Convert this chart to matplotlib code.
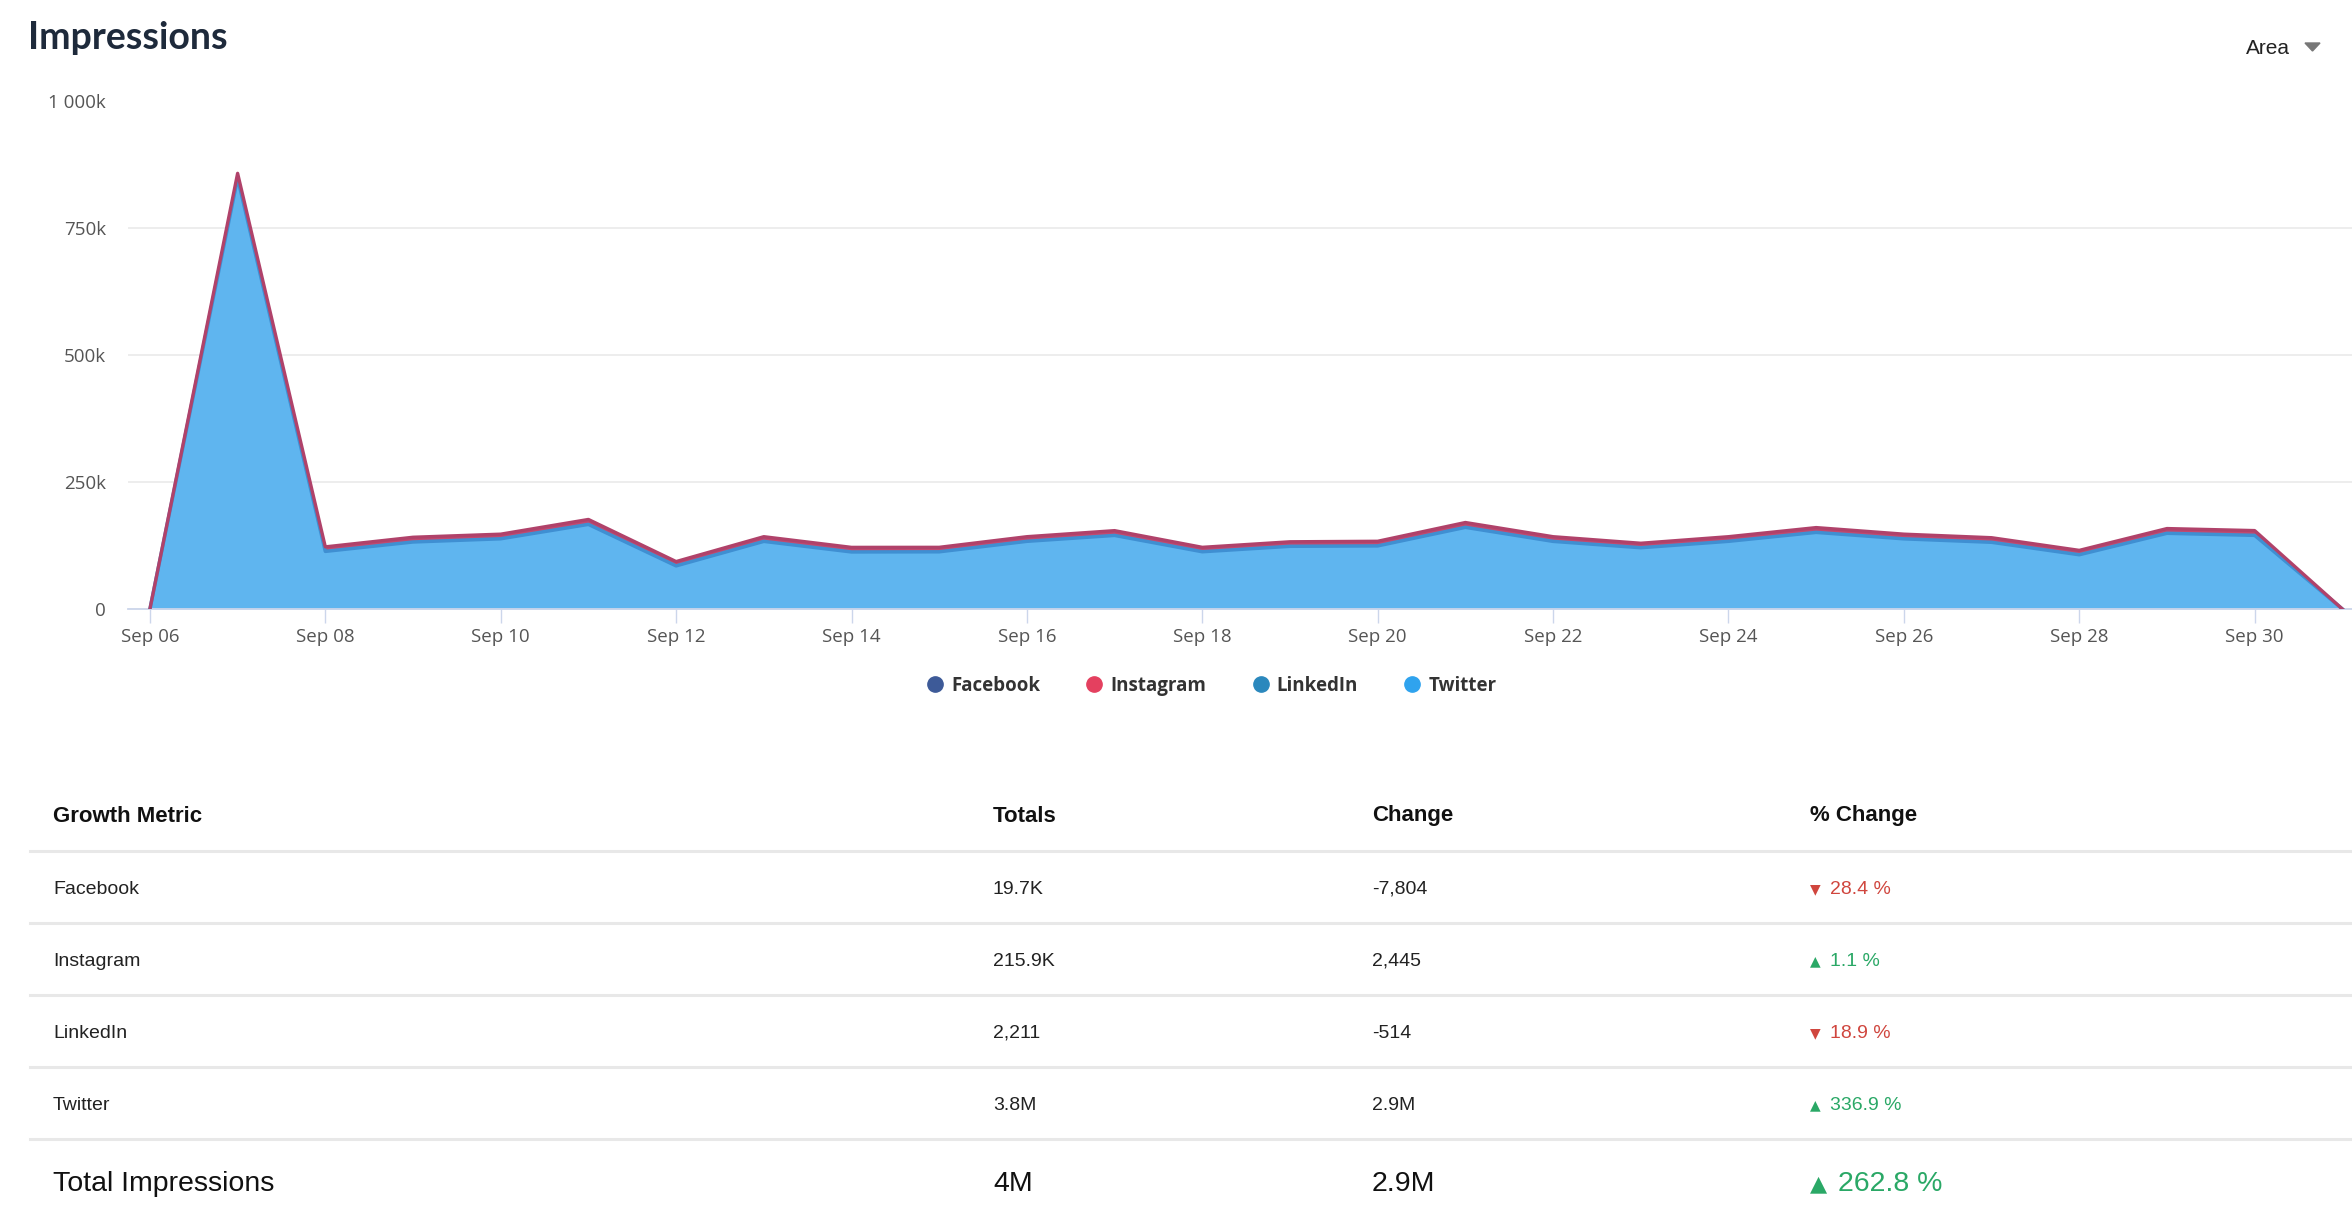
import matplotlib
matplotlib.use("Agg")
import matplotlib.pyplot as plt
from matplotlib.lines import Line2D
from matplotlib.patches import Polygon
import numpy as np

# ---------------- data ----------------
dates = ["Sep 06", "Sep 07", "Sep 08", "Sep 09", "Sep 10", "Sep 11", "Sep 12", "Sep 13",
         "Sep 14", "Sep 15", "Sep 16", "Sep 17", "Sep 18", "Sep 19", "Sep 20", "Sep 21",
         "Sep 22", "Sep 23", "Sep 24", "Sep 25", "Sep 26", "Sep 27", "Sep 28", "Sep 29",
         "Sep 30", "Oct 01"]
# daily impressions, thousands
twitter = [0, 847.2, 113.3, 131.8, 138.1, 166.4, 84.8, 133.0, 112.2, 112.5, 133.1, 144.7,
           112.6, 123.3, 124.1, 160.6, 133.0, 120.5, 133.1, 150.7, 138.0, 131.2, 106.7,
           148.9, 144.8, 0]
linkedin = [0, 0.1, 0.1, 0.1, 0.1, 0.1, 0.1, 0.1, 0.1, 0.1, 0.1, 0.1, 0.1, 0.1, 0.1, 0.1,
            0.1, 0.1, 0.1, 0.1, 0.1, 0.1, 0.1, 0.1, 0.1, 0]
instagram = [0, 9.5, 8.8, 9.2, 9.0, 9.6, 8.4, 9.1, 8.9, 8.7, 9.0, 9.3, 8.6, 8.8, 9.0, 9.4,
             9.1, 8.7, 9.0, 9.3, 9.1, 8.9, 8.5, 9.2, 9.3, 0]
facebook = [0, 1.2, 0.8, 0.9, 0.8, 0.9, 0.7, 0.8, 0.8, 0.7, 0.8, 0.9, 0.7, 0.8, 0.8, 0.9,
            0.8, 0.7, 0.8, 0.9, 0.8, 0.8, 0.7, 0.8, 0.8, 0]

y_ticks = [0, 250, 500, 750, 1000]
y_tick_labels = ["0", "250k", "500k", "750k", "1 000k"]

legend_names = ["Facebook", "Instagram", "LinkedIn", "Twitter"]
legend_colors = ["#3d5a98", "#e4405f", "#2b88bd", "#2fa3ee"]

table_header = ["Growth Metric", "Totals", "Change", "% Change"]
metrics = ["Facebook", "Instagram", "LinkedIn", "Twitter"]
totals = ["19.7K", "215.9K", "2,211", "3.8M"]
changes = ["-7,804", "2,445", "-514", "2.9M"]
pct_changes = ["28.4 %", "1.1 %", "18.9 %", "336.9 %"]
pct_up = [False, True, False, True]
total_row = ["Total Impressions", "4M", "2.9M", "262.8 %"]
total_up = True

# ---------------- figure ----------------
W, H = 2352, 1220
fig = plt.figure(figsize=(W / 100, H / 100), dpi=100)
fig.patch.set_facecolor("white")

def fx(px):
    return px / W

def fy(py):
    return 1 - py / H

ax = fig.add_axes([fx(128), fy(609), fx(2352) - fx(128), fy(100.5) - fy(609)])
x = np.arange(len(dates))

tw = np.array(twitter)
li = np.array(linkedin)
ig = np.array(instagram)
fb = np.array(facebook)
s1 = tw
s2 = s1 + li
s3 = s2 + ig
s4 = s3 + fb

ax.fill_between(x, 0, s1, color="#5fb5ef", lw=0, zorder=2)
ax.fill_between(x, s1, s2, color="#2b88bd", lw=0, zorder=2)
ax.fill_between(x, s2, s3, color="#c2496f", lw=0, zorder=2)
ax.fill_between(x, s3, s4, color="#5a4a8a", lw=0, zorder=2)
ax.plot(x, s1, color="#3f8fd2", lw=2.5, zorder=3, solid_joinstyle="round")
ax.plot(x, s3, color="#b0426a", lw=2.4, zorder=4, solid_joinstyle="round")

ax.set_xlim(-0.25, 25.11)
ax.set_ylim(0, 1000)
ax.set_yticks(y_ticks)
ax.set_yticklabels(y_tick_labels)
ax.set_xticks(x[::2][:13])
ax.set_xticklabels(dates[::2][:13])
ax.grid(axis="y", color="#ececec", lw=1.3, zorder=0)
for s in ["top", "right", "left"]:
    ax.spines[s].set_visible(False)
ax.spines["bottom"].set_color("#ccd6eb")
ax.spines["bottom"].set_linewidth(1.3)
ax.tick_params(axis="y", length=0, pad=16, labelsize=13.5, labelcolor="#555555")
ax.tick_params(axis="x", length=10, width=1, color="#ccd6eb", pad=4, labelsize=13.5,
               labelcolor="#555555")
for lab in ax.get_xticklabels() + ax.get_yticklabels():
    lab.set_family("Open Sans")

# legend
handles = [Line2D([0], [0], marker="o", lw=0, markersize=11, markerfacecolor=c,
                  markeredgecolor=c) for c in legend_colors]
leg = fig.legend(handles, legend_names, loc="center", ncol=4,
                 bbox_to_anchor=(fx(1211), fy(686)), frameon=False,
                 prop={"family": "Open Sans", "weight": "bold", "size": 13.5},
                 handletextpad=0.35, columnspacing=2.4, handlelength=1.0)
for t in leg.get_texts():
    t.set_color("#333333")

# title and dropdown
fig.text(fx(28), fy(38), "Impressions", fontsize=27, fontweight="bold", family="Lato",
         color="#1e2a3b", va="center", ha="left")
fig.text(fx(2246), fy(48), "Area", fontsize=15, family="Liberation Sans", color="#222222",
         va="center", ha="left")
fig.patches.append(Polygon([[fx(2305), fy(43)], [fx(2320), fy(43)], [fx(2312.5), fy(51)]],
                           closed=True, transform=fig.transFigure, color="#777777"))

# table
col_x = [53, 993, 1372, 1810]
row_lines = [850.5, 922.5, 994.5, 1066.5, 1138.5]
row_y = [889.5, 961.5, 1033.5, 1105.5]
red = "#d0463e"
green = "#2aa866"
tfont = ["Liberation Sans", "DejaVu Sans"]

for cx, name in zip(col_x, table_header):
    fig.text(fx(cx), fy(816), name, fontsize=16, fontweight="bold", family=tfont,
             color="#111111", va="center", ha="left")
for ly in row_lines:
    fig.add_artist(Line2D([fx(30), 1.0], [fy(ly), fy(ly)], transform=fig.transFigure,
                          color="#e8e8e8", lw=2.2))
for i, ry in enumerate(row_y):
    fig.text(fx(col_x[0]), fy(ry), metrics[i], fontsize=14, family=tfont, color="#222222",
             va="center", ha="left")
    fig.text(fx(col_x[1]), fy(ry), totals[i], fontsize=14, family=tfont, color="#222222",
             va="center", ha="left")
    fig.text(fx(col_x[2]), fy(ry), changes[i], fontsize=14, family=tfont, color="#222222",
             va="center", ha="left")
    c = green if pct_up[i] else red
    fig.text(fx(col_x[3]), fy(ry), "▲" if pct_up[i] else "▼", fontsize=10,
             family="DejaVu Sans", color=c, va="center", ha="left")
    fig.text(fx(col_x[3] + 20), fy(ry), pct_changes[i], fontsize=14, family=tfont,
             color=c, va="center", ha="left")

ty = 1184
for j in range(3):
    fig.text(fx(col_x[j]), fy(ty), total_row[j], fontsize=20.5, family=tfont,
             color="#111111", va="center", ha="left")
tc = green if total_up else red
fig.text(fx(col_x[3]), fy(ty), "▲" if total_up else "▼", fontsize=16, family="DejaVu Sans",
         color=tc, va="center", ha="left")
fig.text(fx(col_x[3] + 28), fy(ty), total_row[3], fontsize=20.5, family=tfont, color=tc,
         va="center", ha="left")

fig.savefig("out.png", dpi=100, facecolor="white")
